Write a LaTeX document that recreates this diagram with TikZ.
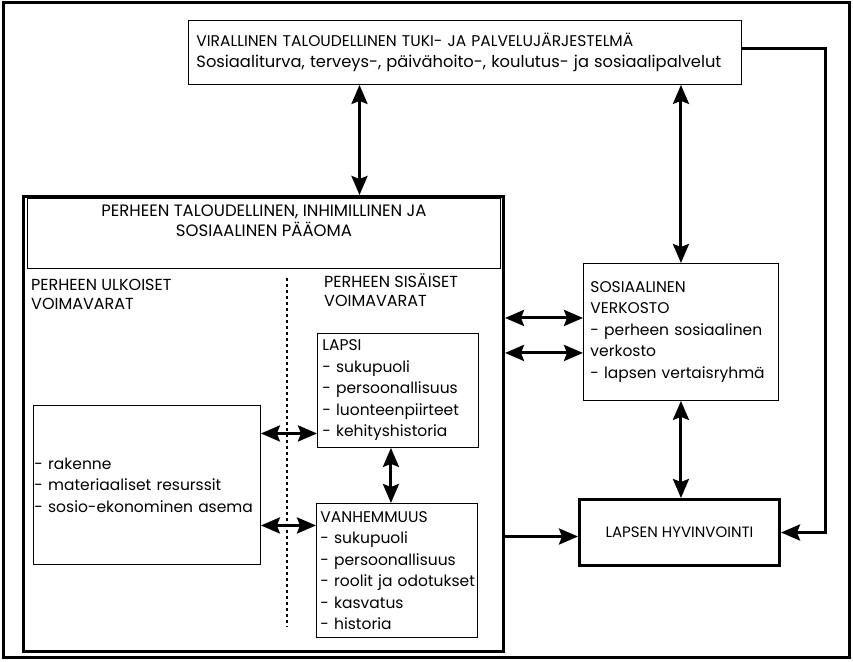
\documentclass[tikz,border=0pt]{standalone}
\usepackage{fontspec}
\setmainfont{Poppins}
\usetikzlibrary{arrows.meta,positioning}

\begin{document}
\begin{tikzpicture}[
    x=1pt, y=-1pt,
    box/.style={rectangle, draw, line width=0.9pt, anchor=north west, inner ysep=0pt},
    listbox/.style={box, align=left, font=\fontsize{15.5}{21.5}\selectfont},
    heavybox/.style={box, line width=3pt},
    caption/.style={anchor=north west, inner sep=0pt, align=left, font=\fontsize{16}{19}\selectfont},
    dbl/.style={line width=3pt, {Stealth[length=19pt,width=16pt,inset=3pt]}-{Stealth[length=19pt,width=16pt,inset=3pt]}},
    arrow/.style={line width=3pt, -{Stealth[length=19pt,width=16pt,inset=3pt]}}
]
\useasboundingbox (0,0) rectangle (853,661);

% Outer frame
\draw[line width=3pt] (3,3) rectangle (849,657);

% Official support system
\node[listbox, inner xsep=8pt, text width=537pt, minimum height=64pt] (tuki) at (188,20)
    {{\fontsize{15.5}{22}\selectfont VIRALLINEN TALOUDELLINEN TUKI- JA PALVELUJÄRJESTELMÄ}\\
     {\fontsize{16.3}{22}\selectfont \mbox{Sosiaaliturva, terveys-, päivähoito-, koulutus- ja sosiaalipalvelut}}};

% Family box
\node[heavybox, minimum width=480pt, minimum height=455pt] (perhe) at (22,195) {};
\node[box, align=center, minimum width=473pt, minimum height=70pt, font=\fontsize{16.5}{20}\selectfont] (paaoma) at (27,198)
    {PERHEEN TALOUDELLINEN, INHIMILLINEN JA\\ SOSIAALINEN PÄÄOMA\\ \strut};

\node[caption] (ulkoiset) at (31,279) {PERHEEN ULKOISET\\VOIMAVARAT};
\node[caption] (sisaiset) at (324,273) {PERHEEN SISÄISET\\VOIMAVARAT};
\draw[line width=1.6pt, dash pattern=on 3pt off 3pt] (287,278) -- (287,627);

% External resources
\node[listbox, inner xsep=1pt, text width=225pt, minimum height=159pt] (ulkoinen) at (33,405)
    {- rakenne\\- materiaaliset resurssit\\\mbox{- sosio-ekonominen asema}};

% Child and parenthood
\node[listbox, inner xsep=5pt, text width=151pt, minimum height=114pt] (lapsi) at (317,333)
    {LAPSI\\- sukupuoli\\- persoonallisuus\\- luonteenpiirteet\\- kehityshistoria};
\node[listbox, inner xsep=4pt, text width=153pt, minimum height=134pt] (vanhemmuus) at (316,503)
    {VANHEMMUUS\\- sukupuoli\\- persoonallisuus\\\mbox{- roolit ja odotukset}\\- kasvatus\\- historia};

% Social network and wellbeing
\node[listbox, inner xsep=7pt, text width=181pt, minimum height=137pt] (verkosto) at (583,263)
    {SOSIAALINEN\\VERKOSTO\\\mbox{- perheen sosiaalinen}\\verkosto\\- lapsen vertaisryhmä};
\node[heavybox, minimum width=200pt, minimum height=66pt, font=\fontsize{15}{15}\selectfont] (hyvinvointi) at (578,498)
    {LAPSEN HYVINVOINTI};

% Connections
\coordinate (pt) at ([xshift=96pt]perhe.north);
\draw[dbl] (pt) -- (pt |- tuki.south);
\draw[dbl] (verkosto.north) -- (verkosto.north |- tuki.south);
\draw[dbl] (verkosto.south) -- (verkosto.south |- hyvinvointi.north);
\draw[dbl] ([yshift=14pt]perhe.east |- verkosto.west) -- ([yshift=14pt]verkosto.west);
\draw[dbl] ([yshift=-21pt]perhe.east |- verkosto.west) -- ([yshift=-21pt]verkosto.west);
\draw[dbl] ([yshift=-43pt]ulkoinen.east |- lapsi.west) -- ([yshift=-43pt]lapsi.west);
\draw[dbl] ([yshift=45pt]ulkoinen.east |- vanhemmuus.west) -- ([yshift=45pt]vanhemmuus.west);
\draw[dbl] ([xshift=-7pt]lapsi.south) -- ([xshift=-7pt]lapsi.south |- vanhemmuus.north);
\draw[arrow] ([yshift=-4pt]perhe.east |- hyvinvointi.west) -- ([yshift=-4pt]hyvinvointi.west);
\draw[arrow] ([yshift=4pt]tuki.east) -- ++(84,0) |- (hyvinvointi.east);

\end{tikzpicture}
\end{document}
